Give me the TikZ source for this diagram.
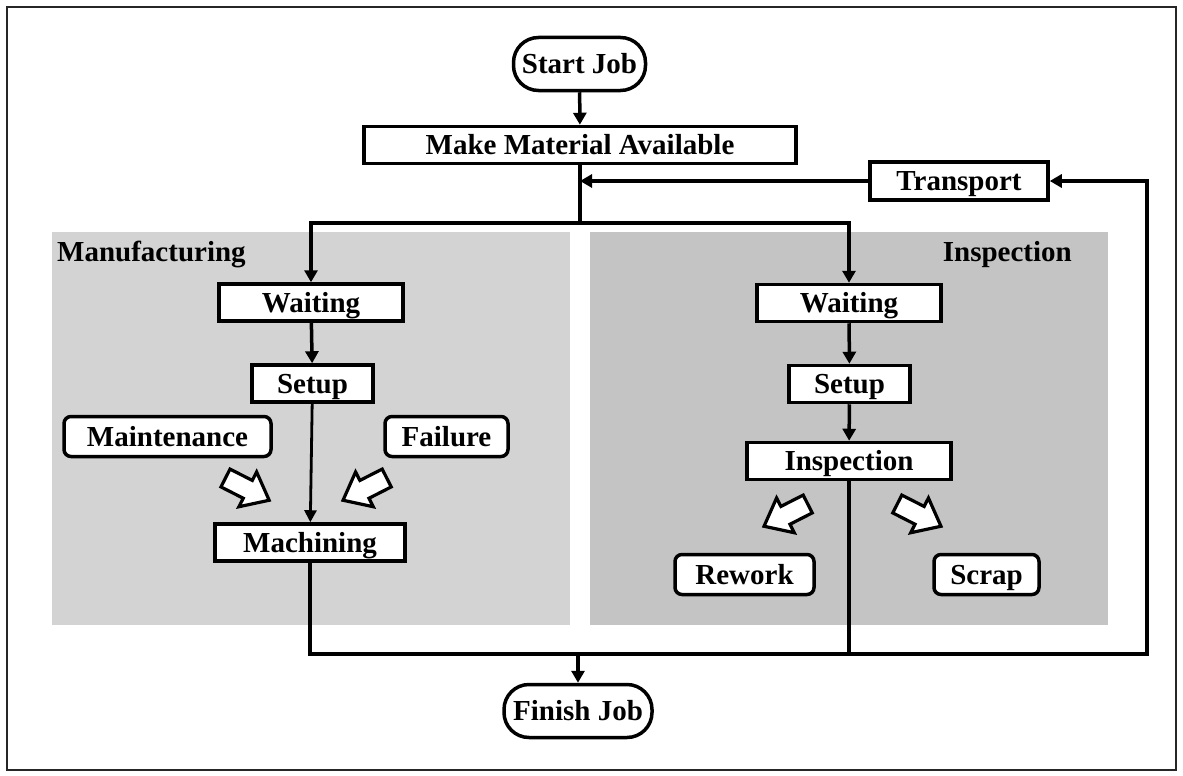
\documentclass[tikz,border=0pt]{standalone}
\usepackage{fontspec}
\setmainfont{Liberation Serif}
\usetikzlibrary{arrows.meta}
\definecolor{mfgbg}{RGB}{211,211,211}
\definecolor{inspbg}{RGB}{196,196,196}
\begin{document}
\begin{tikzpicture}[x=1pt,y=-1pt,
  every node/.style={font=\fontsize{29pt}{32pt}\selectfont\bfseries},
  box/.style={draw=black,line width=3.5pt,fill=white,inner sep=0pt,
    text height=19.5pt,text depth=0pt,
    minimum width=#1,minimum height=37pt},
  rbox/.style={box=#1,rounded corners=7pt,minimum height=40pt},
  pill/.style={box=#1,rounded corners=25pt,minimum height=53pt},
  conn/.style={draw=black,line width=3.5pt},
  arr/.style={conn,-{Triangle[length=12pt,width=13pt]}},
  thinarr/.style={draw=black,line width=2.8pt,-{Triangle[length=12pt,width=12pt]}},
  blockarr/.pic={\draw[line width=3.2pt,fill=white,line join=miter]
    (0,-10) -- (25,-10) -- (25,-19.5) -- (49,0) -- (25,19.5) -- (25,10) -- (0,10) -- cycle;},
  panel label/.style={inner sep=0pt}
]
\useasboundingbox (0,0) rectangle (1183,776);
% outer frame
\draw[line width=1.5pt,black!85] (7,7) rectangle (1176,770);

% the two work areas
\fill[mfgbg] (52,232) rectangle (570,625);
\fill[inspbg] (590,232) rectangle (1108,625);
\node[panel label,anchor=base west] (mfglabel) at (57,261) {Manufacturing};
\node[panel label,anchor=base east] (insplabel) at (1072,261) {Inspection};

% main flow
\node[pill=132pt] (start) at (579.5,64) {Start Job};
\node[box=432pt] (mma) at (580,145) {Make Material Available};
\node[box=178pt,minimum height=38pt] (transport) at (959,181) {Transport};

% manufacturing column
\node[box=184pt] (mwait) at (311,302.5) {Waiting};
\node[box=121pt] (msetup) at (312.5,383.5) {Setup};
\node[rbox=207pt] (maint) at (167.5,436.5) {Maintenance};
\node[rbox=123pt] (fail) at (446.5,436.5) {Failure};
\node[box=190pt] (mach) at (310,542.5) {Machining};

% inspection column
\node[box=184pt] (iwait) at (849,303) {Waiting};
\node[box=121pt] (isetup) at (849.5,384) {Setup};
\node[box=204pt] (insp) at (849,461) {Inspection};
\node[rbox=139pt] (rework) at (744.5,574.5) {Rework};
\node[rbox=105pt] (scrap) at (986.5,574.5) {Scrap};

\node[pill=148pt] (finish) at (578,711) {Finish Job};

% routing points
\coordinate (split) at (580,223);
\coordinate (merge) at (1147,654);
\coordinate (loopin) at (580,181);

% connectors
\draw[arr] (start) -- (mma);
\draw[conn] (mma.south) -- (split);
\draw[arr] (split) -| (mwait.north);
\draw[arr] (split) -| (iwait.north);
\draw[arr] (transport.west) -- (loopin);

\draw[arr] (mwait) -- (msetup);
\draw[thinarr] (msetup) -- (mach);
\draw[arr] (iwait) -- (isetup);
\draw[arr] (isetup) -- (insp);

\draw[arr] (mach.south) |- (merge) |- (transport.east);
\draw[line width=3.2pt] (insp.south) -- (insp.south |- merge);
\draw[arr] (finish.north |- merge) -- (finish.north);

% disturbances and outcomes
\pic[rotate=-27] at (225.5,478) {blockarr};
\pic[rotate=207] at (386.7,478) {blockarr};
\pic[rotate=207] at (807.7,504) {blockarr};
\pic[rotate=-27] at (897.3,504) {blockarr};
\end{tikzpicture}
\end{document}
